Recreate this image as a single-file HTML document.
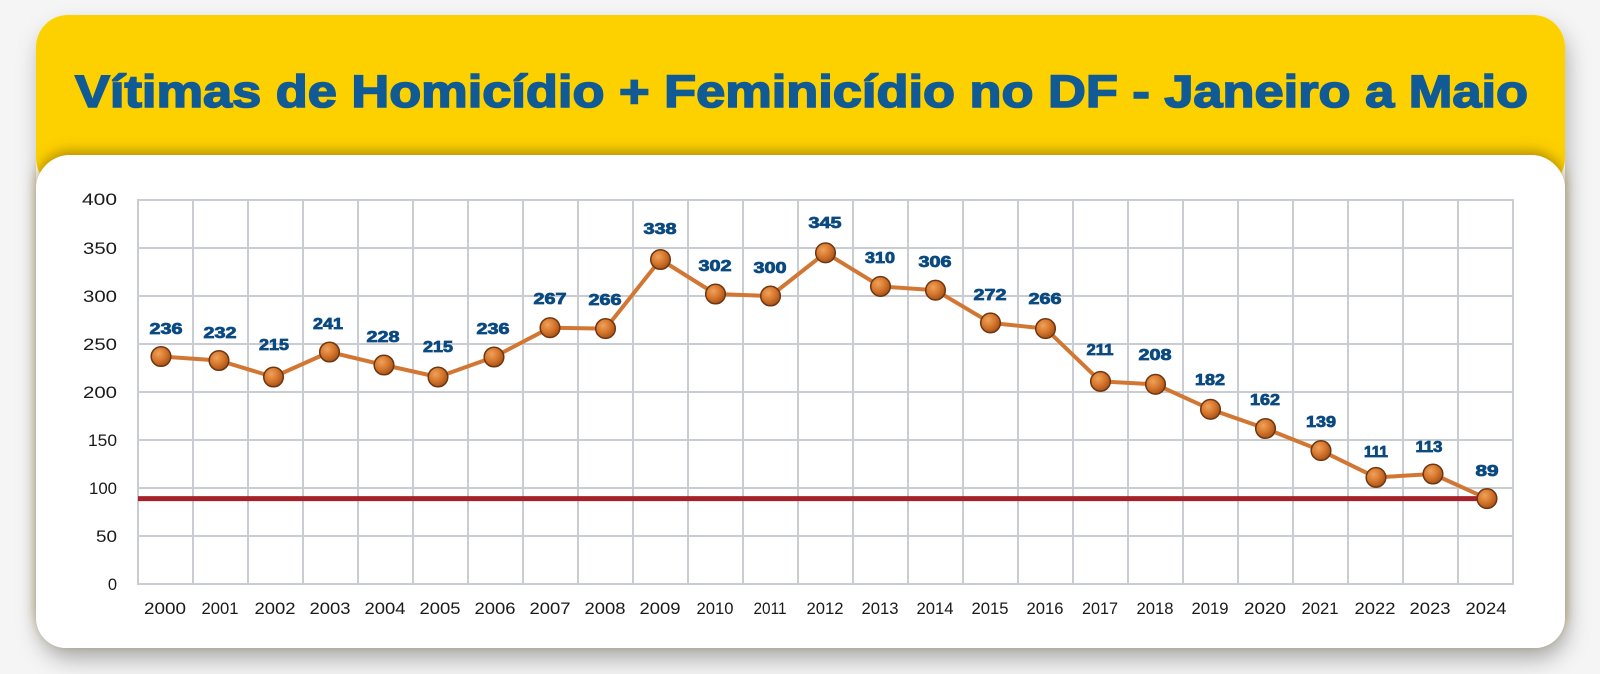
<!DOCTYPE html>
<html>
<head>
<meta charset="utf-8">
<style>
html,body{margin:0;padding:0;width:1600px;height:674px;overflow:hidden;background:#f5f5f5;}
svg{display:block;}
</style>
</head>
<body>
<svg width="1600" height="674" viewBox="0 0 1600 674" xmlns="http://www.w3.org/2000/svg">
<defs>
  <filter id="cardShadow" x="-10%" y="-10%" width="125%" height="130%">
    <feDropShadow dx="3" dy="12" stdDeviation="11" flood-color="#000" flood-opacity="0.28"/>
  </filter>
  <filter id="upShadow" x="-5%" y="-20%" width="110%" height="140%">
    <feDropShadow dx="0" dy="-4" stdDeviation="6" flood-color="#7a5a00" flood-opacity="0.55"/>
  </filter>
  <radialGradient id="ball" cx="38%" cy="35%" r="65%">
    <stop offset="0" stop-color="#eea25c"/>
    <stop offset="0.55" stop-color="#d7772c"/>
    <stop offset="1" stop-color="#a9551c"/>
  </radialGradient>
</defs>

<rect x="0" y="0" width="1600" height="674" fill="#f5f5f5"/>

<!-- card with shadow -->
<g filter="url(#cardShadow)">
  <rect x="36" y="15" width="1529" height="633" rx="32" ry="32" fill="#ffffff"/>
</g>
<rect x="36" y="15" width="1529" height="175" rx="32" ry="32" fill="#fdd000"/>
<!-- white panel -->
<g filter="url(#upShadow)">
  <rect x="36" y="155" width="1529" height="493" rx="34" ry="34" fill="#ffffff"/>
</g>
<rect x="36" y="190" width="1529" height="458" rx="30" ry="30" fill="#ffffff"/>

<!-- title -->
<text x="75" y="107" font-family="Liberation Sans, sans-serif" font-weight="bold" font-size="45" fill="#105a95" stroke="#105a95" stroke-width="1.6" textLength="1453" lengthAdjust="spacingAndGlyphs">Vítimas de Homicídio + Feminicídio no DF - Janeiro a Maio</text>

<!-- grid -->
<g stroke="#c9ccd0" stroke-width="2" fill="none">
  <line x1="137" y1="200" x2="1514" y2="200"/>
  <line x1="137" y1="248" x2="1514" y2="248"/>
  <line x1="137" y1="296" x2="1514" y2="296"/>
  <line x1="137" y1="344" x2="1514" y2="344"/>
  <line x1="137" y1="392" x2="1514" y2="392"/>
  <line x1="137" y1="440" x2="1514" y2="440"/>
  <line x1="137" y1="488" x2="1514" y2="488"/>
  <line x1="137" y1="536" x2="1514" y2="536"/>
  <line x1="137" y1="584" x2="1514" y2="584"/>
  <line x1="138" y1="199" x2="138" y2="585"/>
  <line x1="193" y1="199" x2="193" y2="585"/>
  <line x1="248" y1="199" x2="248" y2="585"/>
  <line x1="303" y1="199" x2="303" y2="585"/>
  <line x1="358" y1="199" x2="358" y2="585"/>
  <line x1="413" y1="199" x2="413" y2="585"/>
  <line x1="468" y1="199" x2="468" y2="585"/>
  <line x1="523" y1="199" x2="523" y2="585"/>
  <line x1="578" y1="199" x2="578" y2="585"/>
  <line x1="633" y1="199" x2="633" y2="585"/>
  <line x1="688" y1="199" x2="688" y2="585"/>
  <line x1="743" y1="199" x2="743" y2="585"/>
  <line x1="798" y1="199" x2="798" y2="585"/>
  <line x1="853" y1="199" x2="853" y2="585"/>
  <line x1="908" y1="199" x2="908" y2="585"/>
  <line x1="963" y1="199" x2="963" y2="585"/>
  <line x1="1018" y1="199" x2="1018" y2="585"/>
  <line x1="1073" y1="199" x2="1073" y2="585"/>
  <line x1="1128" y1="199" x2="1128" y2="585"/>
  <line x1="1183" y1="199" x2="1183" y2="585"/>
  <line x1="1238" y1="199" x2="1238" y2="585"/>
  <line x1="1293" y1="199" x2="1293" y2="585"/>
  <line x1="1348" y1="199" x2="1348" y2="585"/>
  <line x1="1403" y1="199" x2="1403" y2="585"/>
  <line x1="1458" y1="199" x2="1458" y2="585"/>
  <line x1="1513" y1="199" x2="1513" y2="585"/>
</g>

<!-- y axis labels -->
<g font-family="Liberation Sans, sans-serif" font-size="16.5" fill="#1a1a1a" text-anchor="end">
  <text x="117" y="205" textLength="35" lengthAdjust="spacingAndGlyphs">400</text>
  <text x="117" y="254" textLength="34" lengthAdjust="spacingAndGlyphs">350</text>
  <text x="117" y="302" textLength="34" lengthAdjust="spacingAndGlyphs">300</text>
  <text x="117" y="350" textLength="34" lengthAdjust="spacingAndGlyphs">250</text>
  <text x="117" y="398" textLength="34" lengthAdjust="spacingAndGlyphs">200</text>
  <text x="117" y="446" textLength="29" lengthAdjust="spacingAndGlyphs">150</text>
  <text x="117" y="494" textLength="28" lengthAdjust="spacingAndGlyphs">100</text>
  <text x="117" y="542" textLength="21" lengthAdjust="spacingAndGlyphs">50</text>
  <text x="117" y="590">0</text>
</g>

<!-- x axis labels -->
<g font-family="Liberation Sans, sans-serif" font-size="16.5" fill="#1a1a1a" text-anchor="middle">
  <text x="165" y="614" textLength="42" lengthAdjust="spacingAndGlyphs">2000</text>
  <text x="220" y="614" textLength="37" lengthAdjust="spacingAndGlyphs">2001</text>
  <text x="275" y="614" textLength="41" lengthAdjust="spacingAndGlyphs">2002</text>
  <text x="330" y="614" textLength="41" lengthAdjust="spacingAndGlyphs">2003</text>
  <text x="385" y="614" textLength="41" lengthAdjust="spacingAndGlyphs">2004</text>
  <text x="440" y="614" textLength="41" lengthAdjust="spacingAndGlyphs">2005</text>
  <text x="495" y="614" textLength="41" lengthAdjust="spacingAndGlyphs">2006</text>
  <text x="550" y="614" textLength="41" lengthAdjust="spacingAndGlyphs">2007</text>
  <text x="605" y="614" textLength="41" lengthAdjust="spacingAndGlyphs">2008</text>
  <text x="660" y="614" textLength="41" lengthAdjust="spacingAndGlyphs">2009</text>
  <text x="715" y="614" textLength="37" lengthAdjust="spacingAndGlyphs">2010</text>
  <text x="770" y="614" textLength="33" lengthAdjust="spacingAndGlyphs">2011</text>
  <text x="825" y="614" textLength="37" lengthAdjust="spacingAndGlyphs">2012</text>
  <text x="880" y="614" textLength="37" lengthAdjust="spacingAndGlyphs">2013</text>
  <text x="935" y="614" textLength="37" lengthAdjust="spacingAndGlyphs">2014</text>
  <text x="990" y="614" textLength="37" lengthAdjust="spacingAndGlyphs">2015</text>
  <text x="1045" y="614" textLength="37" lengthAdjust="spacingAndGlyphs">2016</text>
  <text x="1100" y="614" textLength="36" lengthAdjust="spacingAndGlyphs">2017</text>
  <text x="1155" y="614" textLength="37" lengthAdjust="spacingAndGlyphs">2018</text>
  <text x="1210" y="614" textLength="37" lengthAdjust="spacingAndGlyphs">2019</text>
  <text x="1265" y="614" textLength="42" lengthAdjust="spacingAndGlyphs">2020</text>
  <text x="1320" y="614" textLength="37" lengthAdjust="spacingAndGlyphs">2021</text>
  <text x="1375" y="614" textLength="41" lengthAdjust="spacingAndGlyphs">2022</text>
  <text x="1430" y="614" textLength="41" lengthAdjust="spacingAndGlyphs">2023</text>
  <text x="1486" y="614" textLength="41" lengthAdjust="spacingAndGlyphs">2024</text>
</g>

<!-- red reference line -->
<line x1="138" y1="498.6" x2="1485" y2="498.6" stroke="#a5222a" stroke-width="5"/>

<!-- series line -->
<polyline fill="none" stroke="#d27733" stroke-width="4" stroke-linejoin="round" stroke-linecap="round"
 points="161,356.5 219,360.5 273.5,377 329.5,352 384,365 438,377 494,357 550,327.7 605.5,328.6 660.5,259.5 715.5,294 770.5,296 825.5,252.8 880.5,286.4 935.5,290.2 990.5,322.9 1045.5,328.6 1100.5,381.4 1155.5,384.3 1210.5,409.3 1265.5,428.5 1321,450.6 1376,477.4 1433,474 1487,498.6"/>

<!-- markers -->
<g fill="url(#ball)" stroke="#6e3510" stroke-width="1.5">
  <circle cx="161" cy="356.5" r="9.8"/>
  <circle cx="219" cy="360.5" r="9.8"/>
  <circle cx="273.5" cy="377" r="9.8"/>
  <circle cx="329.5" cy="352" r="9.8"/>
  <circle cx="384" cy="365" r="9.8"/>
  <circle cx="438" cy="377" r="9.8"/>
  <circle cx="494" cy="357" r="9.8"/>
  <circle cx="550" cy="327.7" r="9.8"/>
  <circle cx="605.5" cy="328.6" r="9.8"/>
  <circle cx="660.5" cy="259.5" r="9.8"/>
  <circle cx="715.5" cy="294" r="9.8"/>
  <circle cx="770.5" cy="296" r="9.8"/>
  <circle cx="825.5" cy="252.8" r="9.8"/>
  <circle cx="880.5" cy="286.4" r="9.8"/>
  <circle cx="935.5" cy="290.2" r="9.8"/>
  <circle cx="990.5" cy="322.9" r="9.8"/>
  <circle cx="1045.5" cy="328.6" r="9.8"/>
  <circle cx="1100.5" cy="381.4" r="9.8"/>
  <circle cx="1155.5" cy="384.3" r="9.8"/>
  <circle cx="1210.5" cy="409.3" r="9.8"/>
  <circle cx="1265.5" cy="428.5" r="9.8"/>
  <circle cx="1321" cy="450.6" r="9.8"/>
  <circle cx="1376" cy="477.4" r="9.8"/>
  <circle cx="1433" cy="474" r="9.8"/>
  <circle cx="1487" cy="498.6" r="9.8"/>
</g>

<!-- data labels -->
<g font-family="Liberation Sans, sans-serif" font-weight="bold" font-size="15.5" fill="#0b4a80" stroke="#0b4a80" stroke-width="0.8" text-anchor="middle">
  <text x="166" y="334" textLength="33" lengthAdjust="spacingAndGlyphs">236</text>
  <text x="220" y="338" textLength="33" lengthAdjust="spacingAndGlyphs">232</text>
  <text x="274" y="350" textLength="30" lengthAdjust="spacingAndGlyphs">215</text>
  <text x="328" y="329" textLength="30" lengthAdjust="spacingAndGlyphs">241</text>
  <text x="383" y="342" textLength="33" lengthAdjust="spacingAndGlyphs">228</text>
  <text x="438" y="352" textLength="30" lengthAdjust="spacingAndGlyphs">215</text>
  <text x="493" y="334" textLength="33" lengthAdjust="spacingAndGlyphs">236</text>
  <text x="550" y="304" textLength="33" lengthAdjust="spacingAndGlyphs">267</text>
  <text x="605" y="305" textLength="33" lengthAdjust="spacingAndGlyphs">266</text>
  <text x="660" y="234" textLength="33" lengthAdjust="spacingAndGlyphs">338</text>
  <text x="715" y="271" textLength="33" lengthAdjust="spacingAndGlyphs">302</text>
  <text x="770" y="273" textLength="33" lengthAdjust="spacingAndGlyphs">300</text>
  <text x="825" y="228" textLength="33" lengthAdjust="spacingAndGlyphs">345</text>
  <text x="880" y="263" textLength="30" lengthAdjust="spacingAndGlyphs">310</text>
  <text x="935" y="267" textLength="33" lengthAdjust="spacingAndGlyphs">306</text>
  <text x="990" y="300" textLength="33" lengthAdjust="spacingAndGlyphs">272</text>
  <text x="1045" y="304" textLength="33" lengthAdjust="spacingAndGlyphs">266</text>
  <text x="1100" y="355" textLength="27" lengthAdjust="spacingAndGlyphs">211</text>
  <text x="1155" y="360" textLength="33" lengthAdjust="spacingAndGlyphs">208</text>
  <text x="1210" y="385" textLength="30" lengthAdjust="spacingAndGlyphs">182</text>
  <text x="1265" y="405" textLength="30" lengthAdjust="spacingAndGlyphs">162</text>
  <text x="1321" y="427" textLength="30" lengthAdjust="spacingAndGlyphs">139</text>
  <text x="1376" y="457" textLength="24" lengthAdjust="spacingAndGlyphs">111</text>
  <text x="1429" y="452" textLength="27" lengthAdjust="spacingAndGlyphs">113</text>
  <text x="1487" y="476" textLength="23" lengthAdjust="spacingAndGlyphs">89</text>
</g>
</svg>
</body>
</html>
